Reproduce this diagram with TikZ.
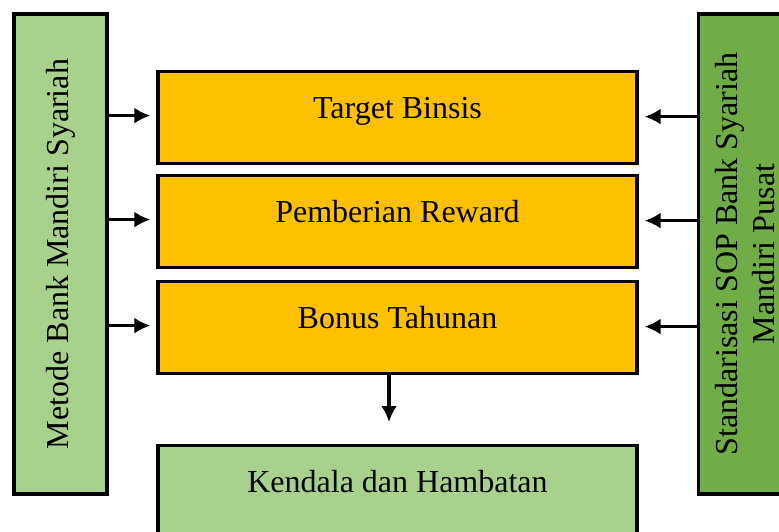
\documentclass[tikz,border=0pt]{standalone}
\usepackage{fontspec}
\setmainfont{Liberation Serif}
\usepackage{tikz}
\usetikzlibrary{arrows.meta,positioning}
\definecolor{hijau}{HTML}{A9D18E}
\definecolor{hijautua}{HTML}{70AD47}
\definecolor{oranye}{HTML}{FFC000}

\begin{document}
\begin{tikzpicture}[x=1pt,y=-1pt,
    every node/.style={font=\fontsize{32}{37}\selectfont},
    bar/.style={draw=black, line width=3.2pt, rotate=90, minimum width=480pt,
      minimum height=93pt, inner sep=0pt, align=center},
    kotak/.style={draw=black, fill=oranye, line width=3.2pt, minimum width=479pt,
      inner xsep=0pt, inner ysep=25pt, text height=22pt, text depth=20pt, anchor=north},
    panah/.style={line width=3.2pt, -{Latex[length=16pt,width=16pt]}}]
  \useasboundingbox (0,0) rectangle (779,531);
  % sisi kiri dan kanan
  \node[bar, fill=hijau] (kiri) at (60.5,254) {Metode Bank Mandiri Syariah};
  \node[bar, fill=hijautua] (kanan) at (745,254)
    {Standarisasi SOP Bank Syariah\\Mandiri Pusat};
  % kotak tengah
  \node[kotak] (target) at (397.5,70) {Target Binsis};
  \node[kotak] (reward) at (397.5,174) {Pemberian Reward};
  \node[kotak] (bonus) at (397.5,280) {Bonus Tahunan};
  \node[kotak, fill=hijau, text depth=60pt] (kendala) at (397.5,444) {Kendala dan Hambatan};
  % panah
  \foreach \n in {target,reward,bonus}{
    \draw[panah] ([yshift=2pt]\n.west -| kiri.south) -- ([xshift=-6pt,yshift=2pt]\n.west);
    \draw[panah] ([yshift=1pt]\n.east -| kanan.north) -- ([xshift=6pt,yshift=1pt]\n.east);
  }
  \draw[panah] ([xshift=-8.5pt]bonus.south) -- ([xshift=-8.5pt,yshift=22pt]kendala.north);
\end{tikzpicture}
\end{document}
